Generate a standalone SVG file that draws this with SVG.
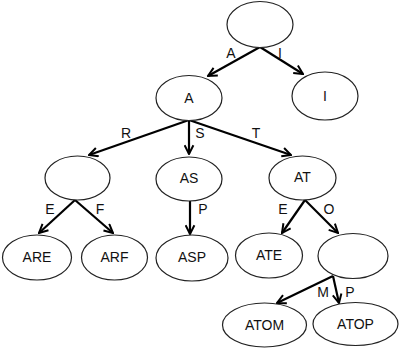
<svg xmlns="http://www.w3.org/2000/svg" width="400" height="353" viewBox="0 0 400 353">
  <defs>
    <marker id="arrow" viewBox="0 0 10 10" refX="9" refY="5" markerWidth="5" markerHeight="5" markerUnits="strokeWidth" orient="auto">
      <path d="M1,1 L9,5 L1,9" fill="none" stroke="#000" stroke-width="1.8" stroke-linejoin="miter"/>
    </marker>
    <style>
      .node ellipse { fill: #fff; stroke: #222; stroke-width: 1.2; }
      .node text { font-family: "Liberation Sans", Arial, sans-serif; font-size: 14px; fill: #111; text-anchor: middle; dominant-baseline: central; }
      .edges line { stroke: #000; stroke-width: 2.2; marker-end: url(#arrow); }
      .labels text { font-family: "Liberation Sans", Arial, sans-serif; font-size: 14px; fill: #111; text-anchor: middle; dominant-baseline: central; }
    </style>
  </defs>
  <rect width="400" height="353" fill="#fff"/>

  <g class="edges">
    <line x1="260" y1="47" x2="208" y2="76"/>
    <line x1="260" y1="47" x2="303" y2="74"/>
    <line x1="189" y1="120" x2="89" y2="155"/>
    <line x1="189" y1="120" x2="189" y2="154"/>
    <line x1="189" y1="120" x2="291" y2="155"/>
    <line x1="75" y1="200" x2="39" y2="233"/>
    <line x1="75" y1="200" x2="113" y2="233"/>
    <line x1="190" y1="201" x2="190" y2="234"/>
    <line x1="305" y1="200" x2="282" y2="233"/>
    <line x1="305" y1="200" x2="338" y2="233"/>
    <line x1="333" y1="276" x2="277" y2="303"/>
    <line x1="333" y1="276" x2="339" y2="303"/>
  </g>

  <g class="labels">
    <text x="231" y="53">A</text>
    <text x="280" y="53">I</text>
    <text x="126" y="133">R</text>
    <text x="200" y="133">S</text>
    <text x="256" y="133">T</text>
    <text x="50" y="209">E</text>
    <text x="100" y="209">F</text>
    <text x="203" y="209">P</text>
    <text x="283" y="209">E</text>
    <text x="329" y="209">O</text>
    <text x="323" y="292">M</text>
    <text x="350" y="292">P</text>
  </g>

  <g id="node-root" class="node"><ellipse cx="260" cy="24.5" rx="33" ry="23"/></g>
  <g id="node-A" class="node"><ellipse cx="189" cy="98" rx="33" ry="22.5"/><text x="189" y="98">A</text></g>
  <g id="node-I" class="node"><ellipse cx="325" cy="96" rx="33" ry="24"/><text x="325" y="96">I</text></g>
  <g id="node-AR" class="node"><ellipse cx="77.5" cy="178" rx="32.5" ry="22"/></g>
  <g id="node-AS" class="node"><ellipse cx="189" cy="179" rx="33" ry="22"/><text x="189" y="178">AS</text></g>
  <g id="node-AT" class="node"><ellipse cx="302.5" cy="178" rx="33.5" ry="22"/><text x="302.5" y="177">AT</text></g>
  <g id="node-ARE" class="node"><ellipse cx="37" cy="257.5" rx="34.5" ry="22.5"/><text x="37" y="257">ARE</text></g>
  <g id="node-ARF" class="node"><ellipse cx="114.5" cy="257.5" rx="33" ry="22.5"/><text x="114.5" y="257">ARF</text></g>
  <g id="node-ASP" class="node"><ellipse cx="192" cy="258" rx="36" ry="23"/><text x="192" y="257">ASP</text></g>
  <g id="node-ATE" class="node"><ellipse cx="269" cy="255.5" rx="33.5" ry="22.5"/><text x="269" y="255">ATE</text></g>
  <g id="node-ATO" class="node"><ellipse cx="353" cy="256" rx="35" ry="22.5"/></g>
  <g id="node-ATOM" class="node"><ellipse cx="264.5" cy="325" rx="42" ry="22"/><text x="264.5" y="325">ATOM</text></g>
  <g id="node-ATOP" class="node"><ellipse cx="355.5" cy="324" rx="42.5" ry="21.5"/><text x="355.5" y="324">ATOP</text></g>
</svg>
